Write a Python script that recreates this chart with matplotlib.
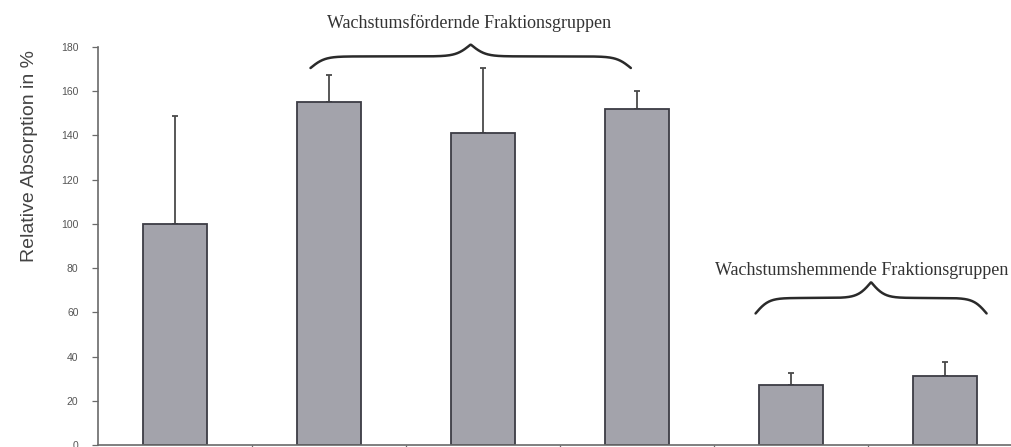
import numpy as np
import matplotlib
matplotlib.use("Agg")
import matplotlib.pyplot as plt

# Relative absorption (%) per fraction group, with upward standard deviation
groups = ["Kontrolle", "F1", "F2", "F3", "F4", "F5"]
absorption = [100, 155, 141, 152, 27, 31]
std_dev = [49, 12.5, 29.5, 8, 5.5, 6.5]
y_ticks = [0, 20, 40, 60, 80, 100, 120, 140, 160, 180]

promoting_label = "Wachstumsfördernde Fraktionsgruppen"
inhibiting_label = "Wachstumshemmende Fraktionsgruppen"

W, H = 1012, 447
fig = plt.figure(figsize=(W / 100, H / 100), dpi=100)
fig.patch.set_facecolor("white")

# axes: y-axis at x=98 px, baseline at y=445 px, 180 at y=47 px; categories 154 px wide
ax = fig.add_axes([98 / W, 2 / H, 924 / W, 398 / H])
ax.set_xlim(-0.5, 5.5)
ax.set_ylim(0, 180)

x = np.arange(len(groups))
ax.bar(x, absorption, width=0.41, color="#a3a3ab", edgecolor="#3c3c44",
       linewidth=1.3, zorder=2)
ax.errorbar(x, absorption, yerr=[np.zeros(len(std_dev)), std_dev], fmt="none",
            ecolor="#4a4a4a", elinewidth=1.3, capsize=2.5, capthick=1.3, zorder=1)

for s in ("top", "right"):
    ax.spines[s].set_visible(False)
for s in ("left", "bottom"):
    ax.spines[s].set_color("#6a6a6a")
    ax.spines[s].set_linewidth(1.2)

ax.set_yticks(y_ticks)
ax.set_yticklabels([str(v) for v in y_ticks], fontsize=7.5, color="#555555",
                   family="Liberation Sans")
ax.tick_params(axis="y", direction="out", length=4, width=0.9, color="#6a6a6a", pad=10)
ax.set_xticks([])
ax.set_xticks(np.arange(0.5, 5.5, 1.0), minor=True)
ax.tick_params(axis="x", which="minor", direction="out", length=3, width=0.9,
               color="#6a6a6a")

fig.text(30 / W, 1 - 156 / H, "Relative Absorption in %", rotation=90,
         ha="center", va="center", fontsize=14, color="#444444",
         family="Liberation Sans")


def brace(ax, x0, x1, y_tip, height, beta=40):
    """Draw a horizontal curly brace opening downward, pointing up in the middle."""
    n = 400
    xs = np.linspace(x0, x1, n)
    half = xs[: n // 2]
    span = x1 - x0
    b = beta / span
    yh = 1 / (1 + np.exp(-b * (half - half[0]))) + 1 / (1 + np.exp(-b * (half - half[-1])))
    ys = np.concatenate([yh, yh[::-1]])
    ys = y_tip + (ys - 0.5) * height
    ax.plot(xs, ys, color="#2a2a2a", linewidth=1.8, clip_on=False,
            solid_capstyle="round")


# brace over the growth-promoting groups
brace(ax, 0.88, 2.96, 170.5, 10.5, beta=45)
ax.text(1.91, 191, promoting_label, ha="center", va="center", fontsize=13,
        family="Liberation Serif", color="#333333", clip_on=False)

# brace over the growth-inhibiting groups
brace(ax, 3.77, 5.27, 59.5, 14, beta=35)
ax.text(4.46, 79, inhibiting_label, ha="center", va="center", fontsize=13,
        family="Liberation Serif", color="#333333", clip_on=False)

fig.savefig("out.png", dpi=100, facecolor="white")
